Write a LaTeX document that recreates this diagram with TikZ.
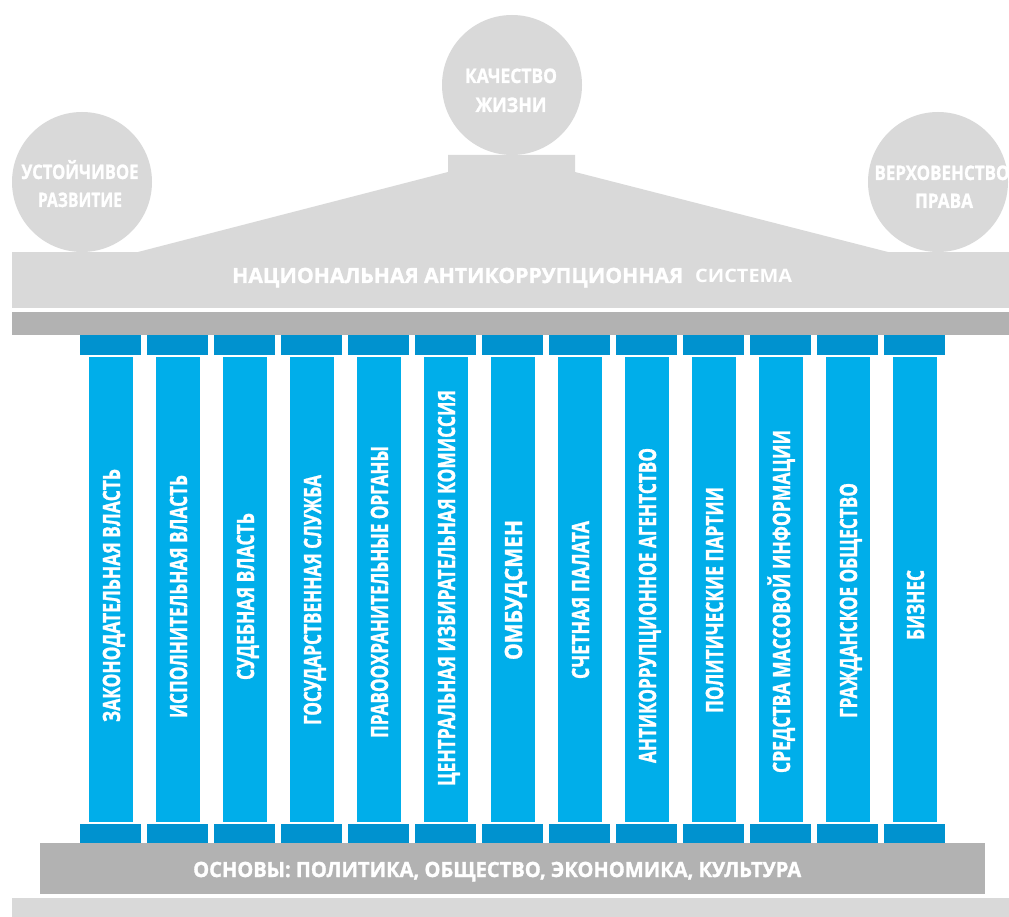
\documentclass[tikz,border=0pt]{standalone}
\usepackage{fontspec}
\setmainfont{Open Sans}[BoldFeatures={FakeBold=1.5}]
\newfontfamily\plainsans{Open Sans}
\usepackage{graphicx}
\definecolor{lightgr}{HTML}{D9D9D9}
\definecolor{darkgr}{HTML}{B2B2B2}
\definecolor{capblue}{HTML}{0092CF}
\definecolor{shaftblue}{HTML}{00AEEA}
\newcommand\wfit[2]{\resizebox{#1pt}{\height}{#2}}
\tikzset{
  lbl/.style={inner sep=0pt, text=white, font=\bfseries\fontsize{21}{21}\selectfont},
  circlbl/.style={inner sep=0pt, text=white, anchor=base, font=\bfseries\fontsize{20}{20}\selectfont},
  coltext/.style={inner sep=0pt, text=white, rotate=90, anchor=base, font=\bfseries\fontsize{23.8}{24}\selectfont},
  disc/.style={circle, fill=lightgr, minimum size=140pt, inner sep=0pt}
}
\begin{document}
\begin{tikzpicture}[x=1pt,y=-1pt]
\useasboundingbox[fill=white] (0,0) rectangle (1009,917);
% circles
\node[disc] (cleft) at (82,182) {};
\node[disc] (ctop) at (512,85) {};
\node[disc] (cright) at (938,182) {};
% roof
\fill[lightgr] (138,252) -- (448,172) -- (448,155) -- (575,155) -- (575,172) -- (888,252) -- cycle;
\fill[lightgr] (12,252) rectangle (1009,308);
\fill[darkgr] (12,312) rectangle (1009,335);
% circle labels
\node[circlbl] (l1a) at (80,179) {\wfit{117}{УСТОЙЧИВОЕ}};
\node[circlbl] (l1b) at (80,207) {\wfit{84}{РАЗВИТИЕ}};
\node[circlbl] (l2a) at (511,83) {\wfit{92}{КАЧЕСТВО}};
\node[circlbl] (l2b) at (511,112) {\wfit{71}{ЖИЗНИ}};
\node[circlbl] (l3a) at (942,180) {\wfit{135}{ВЕРХОВЕНСТВО}};
\node[circlbl] (l3b) at (944,208) {\wfit{58}{ПРАВА}};
% title
\node[lbl, anchor=base west] (title) at (232,283) {\wfit{451}{НАЦИОНАЛЬНАЯ АНТИКОРРУПЦИОННАЯ}\hspace{12pt}\wfit{97}{\plainsans\bfseries\fontsize{18.5}{18.5}\selectfont СИСТЕМА}};
% columns
\foreach \i in {0,...,12}{
  \fill[capblue] (80+67*\i,335) rectangle ++(61,20);
  \fill[shaftblue] (89+67*\i,357) rectangle ++(44,465);
  \fill[capblue] (80+67*\i,824) rectangle ++(61,19);
}
\foreach \t/\w/\c [count=\i from 0] in {
  ЗАКОНОДАТЕЛЬНАЯ ВЛАСТЬ/253/595.5,
  ИСПОЛНИТЕЛЬНАЯ ВЛАСТЬ/243/596.5,
  СУДЕБНАЯ ВЛАСТЬ/167/596.5,
  ГОСУДАРСТВЕННАЯ СЛУЖБА/250/600,
  ПРАВООХРАНИТЕЛЬНЫЕ ОРГАНЫ/292/592,
  ЦЕНТРАЛЬНАЯ ИЗБИРАТЕЛЬНАЯ КОМИССИЯ/396/588,
  ОМБУДСМЕН/140/590,
  СЧЕТНАЯ ПАЛАТА/158/600,
  АНТИКОРРУПЦИОННОЕ АГЕНТСТВО/315/605.5,
  ПОЛИТИЧЕСКИЕ ПАРТИИ/226/600,
  СРЕДСТВА МАССОВОЙ ИНФОРМАЦИИ/343/601.5,
  ГРАЖДАНСКОЕ ОБЩЕСТВО/235/600.5,
  БИЗНЕС/70/605}{
  \node[coltext] (col\i) at (120+67*\i,\c) {\wfit{\w}{\t}};
}
% base
\fill[darkgr] (40,843) rectangle (985,894);
\fill[lightgr] (12,898) rectangle (1009,917);
\node[lbl, anchor=base west] (base) at (193,877) {\wfit{608}{ОСНОВЫ: ПОЛИТИКА, ОБЩЕСТВО, ЭКОНОМИКА, КУЛЬТУРА}};
\end{tikzpicture}
\end{document}
